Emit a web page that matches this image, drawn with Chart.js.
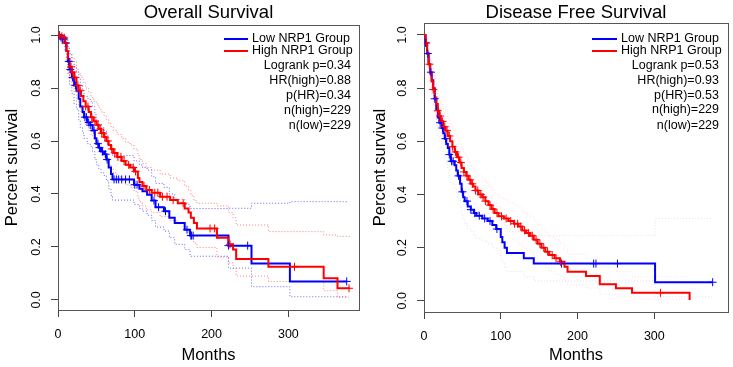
<!DOCTYPE html>
<html lang="en">
<head>
<meta charset="UTF-8">
<title>NRP1 Overall and Disease Free Survival</title>
<script src="https://cdn.jsdelivr.net/npm/chart.js"></script>
<style>
  body { margin: 0; background: #fff; }
  #wrap { position: relative; width: 733px; height: 367px; }
  canvas { position: absolute; top: 0; }
  #osChart { left: 0; }
  #dfsChart { left: 366px; }
</style>
</head>
<body>
<div id="wrap">
  <canvas id="osChart" width="366" height="367"></canvas>
  <canvas id="dfsChart" width="367" height="367"></canvas>
</div>
<script>
// ---- Overall survival, low NRP1 group (blue) ----
const osLowTime  = [0, 3, 6, 9, 11, 13, 15, 18, 21, 24, 27, 29, 32, 34, 38, 42, 45, 48, 50, 53, 56, 60, 63, 66, 69, 71, 99, 106, 110, 116, 122, 127, 138, 145, 152, 165, 172, 222, 252, 302];
const osLowSurv  = [1, 0.99, 0.985, 0.97, 0.94, 0.9, 0.87, 0.84, 0.81, 0.79, 0.76, 0.73, 0.71, 0.69, 0.67, 0.66, 0.64, 0.61, 0.59, 0.575, 0.56, 0.55, 0.53, 0.5, 0.475, 0.455, 0.435, 0.42, 0.41, 0.397, 0.375, 0.35, 0.335, 0.31, 0.29, 0.265, 0.243, 0.205, 0.138, 0.07];
const osLowUpper = [1, 1, 1, 0.995, 0.98, 0.95, 0.93, 0.9, 0.88, 0.86, 0.84, 0.81, 0.79, 0.77, 0.76, 0.75, 0.73, 0.7, 0.68, 0.665, 0.65, 0.64, 0.62, 0.59, 0.565, 0.545, 0.525, 0.51, 0.5, 0.49, 0.465, 0.44, 0.425, 0.4, 0.38, 0.36, 0.345, 0.346, 0.365, 0.371];
const osLowLower = [1, 0.98, 0.97, 0.94, 0.9, 0.85, 0.81, 0.78, 0.74, 0.72, 0.68, 0.65, 0.63, 0.61, 0.59, 0.58, 0.56, 0.53, 0.51, 0.495, 0.48, 0.47, 0.45, 0.42, 0.395, 0.377, 0.36, 0.345, 0.335, 0.32, 0.3, 0.275, 0.26, 0.235, 0.21, 0.19, 0.165, 0.12, 0.05, 0.012];
const osLowCensor = [2, 4, 6, 8, 10, 14, 16, 19, 23, 35, 37, 40, 42, 47, 52, 54, 58, 62, 64, 73, 76, 79, 83, 88, 93, 100, 103, 125, 131, 140, 168, 173, 174, 176, 222, 247, 376];
const osLowEnd = 376;

// ---- Overall survival, high NRP1 group (red) ----
const osHighTime  = [0, 4, 7, 9, 11, 13, 15, 18, 21, 24, 27, 30, 33, 36, 40, 43, 46, 50, 53, 56, 60, 63, 66, 69, 72, 77, 83, 88, 94, 99, 104, 106, 110, 115, 122, 133, 146, 156, 165, 170, 173, 177, 181, 207, 222, 228, 232, 274, 346, 364];
const osHighSurv  = [1, 0.995, 0.99, 0.97, 0.94, 0.91, 0.88, 0.86, 0.84, 0.81, 0.79, 0.77, 0.75, 0.73, 0.71, 0.69, 0.675, 0.66, 0.645, 0.63, 0.615, 0.6, 0.585, 0.57, 0.555, 0.54, 0.525, 0.51, 0.5, 0.485, 0.46, 0.445, 0.43, 0.415, 0.405, 0.39, 0.377, 0.365, 0.345, 0.33, 0.31, 0.29, 0.27, 0.235, 0.21, 0.19, 0.155, 0.125, 0.082, 0.044];
const osHighUpper = [1, 1, 1, 0.99, 0.97, 0.95, 0.93, 0.915, 0.9, 0.87, 0.855, 0.84, 0.82, 0.8, 0.785, 0.765, 0.75, 0.74, 0.725, 0.71, 0.695, 0.68, 0.665, 0.655, 0.64, 0.625, 0.61, 0.595, 0.585, 0.57, 0.545, 0.53, 0.515, 0.5, 0.49, 0.475, 0.46, 0.45, 0.43, 0.415, 0.395, 0.375, 0.365, 0.355, 0.33, 0.31, 0.283, 0.258, 0.245, 0.24];
const osHighLower = [1, 0.985, 0.975, 0.95, 0.91, 0.87, 0.835, 0.81, 0.785, 0.75, 0.73, 0.705, 0.685, 0.66, 0.64, 0.62, 0.605, 0.59, 0.57, 0.555, 0.54, 0.525, 0.51, 0.495, 0.48, 0.465, 0.45, 0.435, 0.425, 0.41, 0.385, 0.37, 0.355, 0.34, 0.33, 0.315, 0.3, 0.29, 0.27, 0.255, 0.235, 0.215, 0.198, 0.162, 0.14, 0.12, 0.09, 0.07, 0.035, 0.01];
const osHighCensor = [2, 5, 8, 10, 17, 19, 22, 26, 29, 36, 39, 44, 48, 52, 55, 57, 59, 61, 65, 70, 74, 78, 82, 86, 92, 98, 101, 112, 119, 126, 130, 136, 142, 150, 163, 198, 204, 224, 308, 379];
const osHighEnd = 380;

// ---- Disease free survival, low NRP1 group (blue) ----
const dfsLowTime  = [0, 2, 4, 6, 8, 10, 12, 14, 16, 18, 20, 23, 25, 27, 29, 31, 33, 35, 40, 42, 44, 47, 49, 51, 53, 57, 61, 65, 68, 76, 83, 89, 94, 100, 102, 105, 108, 130, 143, 301];
const dfsLowSurv  = [1, 0.97, 0.93, 0.89, 0.86, 0.83, 0.8, 0.76, 0.72, 0.69, 0.67, 0.65, 0.63, 0.61, 0.59, 0.575, 0.55, 0.525, 0.51, 0.49, 0.47, 0.44, 0.41, 0.39, 0.375, 0.355, 0.343, 0.33, 0.32, 0.31, 0.3, 0.285, 0.27, 0.24, 0.22, 0.2, 0.18, 0.16, 0.14, 0.07];
const dfsLowUpper = [1, 0.99, 0.965, 0.935, 0.91, 0.885, 0.86, 0.825, 0.79, 0.765, 0.745, 0.725, 0.71, 0.69, 0.67, 0.655, 0.635, 0.61, 0.595, 0.575, 0.555, 0.525, 0.5, 0.475, 0.46, 0.44, 0.43, 0.415, 0.405, 0.395, 0.385, 0.37, 0.355, 0.325, 0.305, 0.285, 0.26, 0.25, 0.245, 0.31];
const dfsLowLower = [1, 0.95, 0.9, 0.85, 0.81, 0.775, 0.74, 0.7, 0.655, 0.62, 0.6, 0.575, 0.555, 0.53, 0.51, 0.495, 0.465, 0.44, 0.425, 0.405, 0.385, 0.355, 0.325, 0.305, 0.29, 0.27, 0.26, 0.245, 0.235, 0.225, 0.215, 0.2, 0.19, 0.16, 0.145, 0.125, 0.11, 0.09, 0.075, 0.015];
const dfsLowCensor = [2, 5, 9, 14, 21, 24, 28, 33, 36, 38, 45, 50, 56, 61, 66, 72, 79, 86, 95, 179, 221, 224, 252, 376];
const dfsLowEnd = 376;

// ---- Disease free survival, high NRP1 group (red) ----
const dfsHighTime  = [0, 2, 4, 6, 8, 10, 12, 14, 16, 18, 20, 22, 25, 28, 31, 34, 37, 40, 43, 46, 49, 52, 55, 58, 61, 64, 67, 71, 76, 80, 84, 88, 92, 97, 104, 110, 117, 123, 128, 133, 138, 143, 148, 153, 158, 163, 170, 177, 183, 187, 211, 229, 250, 271, 346];
const dfsHighSurv  = [1, 0.97, 0.93, 0.89, 0.855, 0.825, 0.795, 0.765, 0.74, 0.715, 0.695, 0.675, 0.655, 0.64, 0.62, 0.6, 0.58, 0.56, 0.54, 0.52, 0.5, 0.485, 0.47, 0.455, 0.44, 0.43, 0.415, 0.4, 0.39, 0.375, 0.36, 0.345, 0.33, 0.318, 0.31, 0.3, 0.29, 0.28, 0.265, 0.255, 0.245, 0.23, 0.215, 0.2, 0.185, 0.172, 0.16, 0.147, 0.128, 0.109, 0.093, 0.062, 0.047, 0.03, 0.003];
const dfsHighUpper = [1, 0.99, 0.965, 0.93, 0.9, 0.875, 0.85, 0.82, 0.8, 0.775, 0.755, 0.74, 0.72, 0.705, 0.685, 0.665, 0.645, 0.63, 0.61, 0.59, 0.57, 0.555, 0.54, 0.525, 0.51, 0.5, 0.485, 0.47, 0.46, 0.445, 0.43, 0.415, 0.4, 0.39, 0.38, 0.37, 0.36, 0.35, 0.335, 0.325, 0.315, 0.3, 0.285, 0.27, 0.255, 0.24, 0.23, 0.215, 0.195, 0.175, 0.16, 0.125, 0.11, 0.09, 0.09];
const dfsHighLower = [1, 0.95, 0.9, 0.85, 0.81, 0.775, 0.74, 0.71, 0.68, 0.655, 0.635, 0.61, 0.59, 0.575, 0.555, 0.535, 0.515, 0.495, 0.475, 0.455, 0.435, 0.42, 0.405, 0.39, 0.375, 0.365, 0.35, 0.335, 0.325, 0.31, 0.295, 0.28, 0.265, 0.255, 0.245, 0.235, 0.225, 0.215, 0.2, 0.19, 0.18, 0.165, 0.15, 0.14, 0.125, 0.112, 0.1, 0.09, 0.075, 0.06, 0.048, 0.025, 0.015, 0.006, 0];
const dfsHighCensor = [3, 7, 12, 18, 21, 24, 27, 30, 33, 37, 41, 45, 48, 52, 56, 60, 63, 67, 70, 74, 77, 80, 86, 90, 95, 101, 107, 113, 118, 122, 126, 131, 136, 141, 146, 151, 156, 161, 167, 172, 178, 308];
const dfsHighEnd = 346;

// ---- text and ticks ----
const groupLabels = ['Low NRP1 Group', 'High NRP1 Group'];
const osStats  = ['Logrank p=0.34', 'HR(high)=0.88', 'p(HR)=0.34', 'n(high)=229', 'n(low)=229'];
const dfsStats = ['Logrank p=0.53', 'HR(high)=0.93', 'p(HR)=0.53', 'n(high)=229', 'n(low)=229'];
const xTicks = [0, 100, 200, 300];
const yTicks = [0, 0.2, 0.4, 0.6, 0.8, 1.0];

const FONT = '"Liberation Sans", Arial, Helvetica, sans-serif';
const BLUE = '#0000ff';
const RED = '#ff0000';

// step curve points, extended flat to the last follow-up time
function stepPoints(times, values, end) {
    const pts = times.map((t, i) => ({x: t, y: values[i]}));
    pts.push({x: end, y: values[values.length - 1]});
    return pts;
}

// censor marks sit on the curve value at their time
function censorPoints(times, values, censor) {
    return censor.map(c => {
        let i = 0;
        while (i + 1 < times.length && times[i + 1] <= c) i++;
        return {x: c, y: values[i]};
    });
}

function lineSet(pts, color, width, dash, order) {
    return {
        data: pts, borderColor: color, borderWidth: width, borderDash: dash,
        stepped: 'before', pointRadius: 0, fill: false, order: order
    };
}

function markSet(pts, color, order) {
    return {
        data: pts, showLine: false, pointStyle: 'cross', pointRadius: 4,
        pointBorderColor: color, pointBorderWidth: 1, borderColor: color, order: order
    };
}

function makeChart(id, cfg) {
    const textPlugin = {
        id: 'kmText',
        beforeDatasetsDraw(chart) {
            const a = chart.chartArea, ctx = chart.ctx;
            ctx.save();
            ctx.strokeStyle = '#555';
            ctx.lineWidth = 1;
            ctx.strokeRect(a.left + 0.5, a.top + 0.5, a.right - a.left, a.bottom - a.top);
            ctx.restore();
        },
        afterDraw(chart) {
            const a = chart.chartArea, ctx = chart.ctx;
            const cx = (a.left + a.right) / 2;
            ctx.save();
            ctx.fillStyle = '#000';
            ctx.textBaseline = 'middle';
            ctx.textAlign = 'center';
            ctx.font = '18.5px ' + FONT;
            ctx.fillText(cfg.title, cx, cfg.titleY);
            ctx.font = '16.5px ' + FONT;
            ctx.fillText('Months', cx, cfg.xTitleY);
            ctx.save();
            ctx.translate(cfg.yTitleX, (a.top + a.bottom) / 2);
            ctx.rotate(-Math.PI / 2);
            ctx.fillText('Percent survival', 0, 0);
            ctx.restore();

            // legend
            const lg = cfg.legend;
            ctx.font = '12.5px ' + FONT;
            [BLUE, RED].forEach((c, i) => {
                const y = lg.rowY[i];
                ctx.strokeStyle = c;
                ctx.lineWidth = 2;
                ctx.beginPath();
                ctx.moveTo(lg.lineX1, y);
                ctx.lineTo(lg.lineX2, y);
                ctx.stroke();
                ctx.textAlign = 'left';
                ctx.fillText(groupLabels[i], lg.textX, y);
            });
            ctx.textAlign = 'right';
            cfg.stats.forEach((s, i) => ctx.fillText(s, lg.statsRight, lg.statsY[i]));
            ctx.restore();
        }
    };

    const tickFont = {family: FONT, size: 12.5};
    const gridOpts = {drawOnChartArea: false, drawTicks: true, tickLength: 7, color: '#444', lineWidth: 1};

    return new Chart(document.getElementById(id), {
        type: 'line',
        data: {
            datasets: [
                markSet(censorPoints(cfg.high.t, cfg.high.s, cfg.high.censor), RED, 1),
                markSet(censorPoints(cfg.low.t, cfg.low.s, cfg.low.censor), BLUE, 2),
                lineSet(stepPoints(cfg.high.t, cfg.high.s, cfg.high.end), RED, 2, [], 3),
                lineSet(stepPoints(cfg.low.t, cfg.low.s, cfg.low.end), BLUE, 2, [], 4),
                lineSet(stepPoints(cfg.high.t, cfg.high.up, cfg.high.end), cfg.ciRed, 1, [1, 2], 5),
                lineSet(stepPoints(cfg.high.t, cfg.high.lo, cfg.high.end), cfg.ciRed, 1, [1, 2], 6),
                lineSet(stepPoints(cfg.low.t, cfg.low.up, cfg.low.end), cfg.ciBlue, 1, [1, 2], 7),
                lineSet(stepPoints(cfg.low.t, cfg.low.lo, cfg.low.end), cfg.ciBlue, 1, [1, 2], 8)
            ]
        },
        options: {
            responsive: false,
            animation: false,
            events: [],
            layout: {padding: cfg.padding},
            plugins: {legend: {display: false}, tooltip: {enabled: false}},
            scales: {
                x: {
                    type: 'linear', min: 0, max: cfg.xMax,
                    afterBuildTicks: s => { s.ticks = xTicks.map(v => ({value: v})); },
                    afterFit: s => { s.height = cfg.xAxisHeight; },
                    ticks: {maxRotation: 0, autoSkip: false, color: '#000', font: tickFont, padding: 10},
                    grid: gridOpts,
                    border: {display: false}
                },
                y: {
                    type: 'linear', min: cfg.yMin, max: cfg.yMax,
                    afterBuildTicks: s => { s.ticks = yTicks.map(v => ({value: v})); },
                    afterFit: s => { s.width = cfg.yAxisWidth; },
                    ticks: {
                        minRotation: 90, maxRotation: 90, autoSkip: false,
                        crossAlign: 'center', padding: 6, color: '#000', font: tickFont,
                        callback: v => v.toFixed(1)
                    },
                    grid: gridOpts,
                    border: {display: false}
                }
            }
        },
        plugins: [textPlugin]
    });
}

makeChart('osChart', {
    title: 'Overall Survival', titleY: 13, xTitleY: 355, yTitleX: 12,
    stats: osStats,
    legend: {lineX1: 224, lineX2: 248, textX: 252, rowY: [39, 51], statsRight: 351, statsY: [66, 81, 96, 110.5, 125.5]},
    padding: {left: 0, right: 7, top: 25, bottom: 0},
    yAxisWidth: 58, xAxisHeight: 57,
    xMax: 392, yMin: -0.038, yMax: 1.038,
    ciBlue: 'rgba(40,40,230,0.7)', ciRed: 'rgba(255,60,60,0.65)',
    low: {t: osLowTime, s: osLowSurv, up: osLowUpper, lo: osLowLower, censor: osLowCensor, end: osLowEnd},
    high: {t: osHighTime, s: osHighSurv, up: osHighUpper, lo: osHighLower, censor: osHighCensor, end: osHighEnd}
});

makeChart('dfsChart', {
    title: 'Disease Free Survival', titleY: 13, xTitleY: 355, yTitleX: 14,
    stats: dfsStats,
    legend: {lineX1: 226, lineX2: 251, textX: 255, rowY: [39, 51], statsRight: 353, statsY: [66, 80.5, 95.5, 109.5, 125.5]},
    padding: {left: 0, right: 1, top: 23, bottom: 0},
    yAxisWidth: 58, xAxisHeight: 55,
    xMax: 396, yMin: -0.042, yMax: 1.045,
    ciBlue: 'rgba(170,170,200,0.35)', ciRed: 'rgba(255,150,150,0.3)',
    low: {t: dfsLowTime, s: dfsLowSurv, up: dfsLowUpper, lo: dfsLowLower, censor: dfsLowCensor, end: dfsLowEnd},
    high: {t: dfsHighTime, s: dfsHighSurv, up: dfsHighUpper, lo: dfsHighLower, censor: dfsHighCensor, end: dfsHighEnd}
});
</script>
</body>
</html>
